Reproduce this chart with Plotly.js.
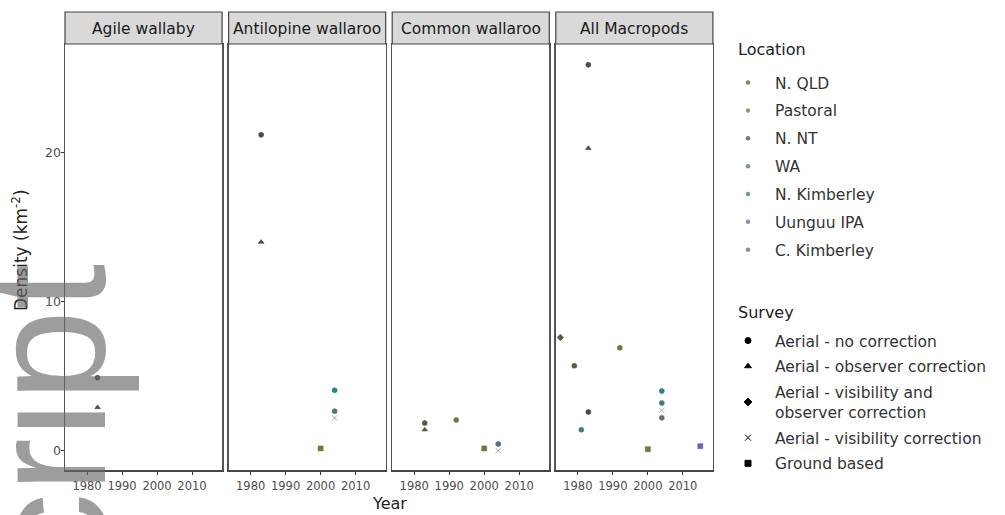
<!DOCTYPE html>
<html><head><meta charset="utf-8">
<script src="https://cdn.plot.ly/plotly-3.0.1.min.js"></script>
<style>html,body{margin:0;padding:0;background:#fff}#chart{width:1005px;height:515px}</style>
</head><body><div id="chart"></div>
<script>
// ---------- data ----------
const panelNames = ["Agile wallaby", "Antilopine wallaroo", "Common wallaroo", "All Macropods"];
const locations = ["N. QLD", "Pastoral", "N. NT", "WA", "N. Kimberley", "Uunguu IPA", "C. Kimberley"];
const locationColors = ["#5c5a3e", "#77733f", "#4a4a4a", "#4a7777", "#2e8088", "#6d62ad", "#6a6a6a"];
const surveys = ["Aerial - no correction", "Aerial - observer correction", "Aerial - visibility and<br>observer correction", "Aerial - visibility correction", "Ground based"];
const surveySymbols = ["circle", "triangle-up", "diamond", "x-thin-open", "square"];
const yearTicks = [1980, 1990, 2000, 2010];
const yearTickLabels = ["1980", "1990", "2000", "2010"];
const densityTicks = [0, 10, 20];
const densityTickLabels = ["0", "10", "20"];

const agileYear = [1983, 1983];
const agileDensity = [4.9, 2.9];
const agileLocation = ["N. NT", "N. NT"];
const agileSurvey = ["Aerial - no correction", "Aerial - observer correction"];

const antilopineYear = [1983, 1983, 2004, 2004, 2004, 2000];
const antilopineDensity = [21.2, 14.0, 4.05, 2.65, 2.2, 0.15];
const antilopineLocation = ["N. NT", "N. NT", "N. Kimberley", "WA", "WA", "Pastoral"];
const antilopineSurvey = ["Aerial - no correction", "Aerial - observer correction", "Aerial - no correction", "Aerial - no correction", "Aerial - visibility correction", "Ground based"];

const commonYear = [1983, 1983, 1992, 2000, 2004, 2004];
const commonDensity = [1.85, 1.4, 2.05, 0.15, 0.45, 0.0];
const commonLocation = ["N. QLD", "N. QLD", "Pastoral", "Pastoral", "WA", "WA"];
const commonSurvey = ["Aerial - no correction", "Aerial - observer correction", "Aerial - no correction", "Ground based", "Aerial - no correction", "Aerial - visibility correction"];

const allYear = [1983, 1983, 1975, 1992, 1979, 2004, 2004, 2004, 2004, 1983, 1981, 2000, 2015];
const allDensity = [25.9, 20.3, 7.6, 6.9, 5.7, 4.0, 3.2, 2.7, 2.2, 2.6, 1.4, 0.1, 0.3];
const allLocation = ["N. NT", "N. NT", "N. QLD", "Pastoral", "N. QLD", "N. Kimberley", "WA", "WA", "C. Kimberley", "N. NT", "WA", "Pastoral", "Uunguu IPA"];
const allSurvey = ["Aerial - no correction", "Aerial - observer correction", "Aerial - visibility and<br>observer correction", "Aerial - no correction", "Aerial - no correction", "Aerial - no correction", "Aerial - no correction", "Aerial - visibility correction", "Aerial - no correction", "Aerial - no correction", "Aerial - no correction", "Ground based", "Ground based"];

// ---------- layout helpers ----------
const W = 1005, H = 515;
const px = v => v / W;
const py = v => 1 - v / H;
const panelLeft = [65, 228.6, 392.2, 555.8];
const panelWidth = 157.1;
const panelTop = 44, panelBottom = 470, stripTop = 12;
const FONT = "DejaVu Sans";

const panelData = [
  [agileYear, agileDensity, agileLocation, agileSurvey],
  [antilopineYear, antilopineDensity, antilopineLocation, antilopineSurvey],
  [commonYear, commonDensity, commonLocation, commonSurvey],
  [allYear, allDensity, allLocation, allSurvey]
];

const traces = [];
panelData.forEach((d, i) => {
  const sfx = i === 0 ? "" : String(i + 1);
  traces.push({
    type: "scatter", mode: "markers",
    x: d[0], y: d[1],
    xaxis: "x" + sfx, yaxis: "y" + sfx,
    showlegend: false, hoverinfo: "x+y",
    marker: {
      size: 5,
      color: d[2].map(l => locationColors[locations.indexOf(l)]),
      symbol: d[3].map(s => surveySymbols[surveys.indexOf(s)]),
      line: {width: 0.6, color: d[2].map(l => locationColors[locations.indexOf(l)])}
    }
  });
});
// legend-only entries
locations.forEach((l, i) => {
  traces.push({type: "scatter", mode: "markers", x: [null], y: [null], name: l,
    legend: "legend", legendgroup: "loc" + i, showlegend: true,
    marker: {size: 4.5, color: locationColors[i], symbol: "circle", opacity: 0.75}});
});
surveys.forEach((s, i) => {
  traces.push({type: "scatter", mode: "markers", x: [null], y: [null], name: s,
    legend: "legend2", legendgroup: "srv" + i, showlegend: true,
    marker: {size: 6, color: "#000", symbol: surveySymbols[i], line: {width: 1, color: "#000"}}});
});

const layout = {
  width: W, height: H,
  margin: {l: 0, r: 0, t: 0, b: 0, autoexpand: false},
  paper_bgcolor: "#fff", plot_bgcolor: "#fff",
  font: {family: FONT, color: "#333"},
  showlegend: true,
  legend: {
    xref: "container", yref: "container", x: px(721), y: py(66), xanchor: "left", yanchor: "top",
    traceorder: "grouped", tracegroupgap: 4.7, itemwidth: 44,
    font: {family: FONT, size: 15.5, color: "#333"}, bgcolor: "rgba(0,0,0,0)"
  },
  legend2: {
    xref: "container", yref: "container", x: px(721), y: py(324), xanchor: "left", yanchor: "top",
    traceorder: "grouped", tracegroupgap: 2.5, itemwidth: 44,
    font: {family: FONT, size: 15.5, color: "#333"}, bgcolor: "rgba(0,0,0,0)"
  },
  shapes: [],
  annotations: []
};

panelNames.forEach((name, i) => {
  const sfx = i === 0 ? "" : String(i + 1);
  const l = panelLeft[i], r = l + panelWidth;
  layout["xaxis" + sfx] = {
    domain: [px(l), px(r)], anchor: "y" + sfx,
    range: [1973.7, 2018.6], showgrid: false, zeroline: false,
    showline: true, linecolor: "#444", linewidth: 1.5, mirror: true,
    ticks: "outside", ticklen: 3, tickcolor: "#333", tickwidth: 1,
    tickmode: "array", tickvals: yearTicks, ticktext: yearTickLabels, tickangle: 0,
    ticklabelstandoff: 2,
    tickfont: {family: FONT, size: 11.5, color: "#4d4d4d"}, fixedrange: true
  };
  layout["yaxis" + sfx] = {
    domain: [py(panelBottom), py(panelTop)], anchor: "x" + sfx,
    range: [-1.3, 27.3], showgrid: false, zeroline: false,
    showline: true, linecolor: "#555", linewidth: 1.5, mirror: true,
    ticks: i === 0 ? "outside" : "", ticklen: 3, tickcolor: "#333",
    showticklabels: i === 0, ticklabelstandoff: -3,
    tickmode: "array", tickvals: densityTicks, ticktext: densityTickLabels,
    tickfont: {family: FONT, size: 12.5, color: "#4d4d4d"}, fixedrange: true
  };
  layout.shapes.push({type: "rect", xref: "paper", yref: "paper",
    x0: px(l), x1: px(r), y0: py(panelTop), y1: py(stripTop),
    fillcolor: "#d9d9d9", line: {color: "#444", width: 1.2}, layer: "above"});
  layout.annotations.push({xref: "paper", yref: "paper", x: px((l + r) / 2), y: py((stripTop + panelTop) / 2 + 1),
    text: name, showarrow: false, xanchor: "center", yanchor: "middle",
    font: {family: FONT, size: 15.5, color: "#1a1a1a"}});
});

// axis titles
layout.annotations.push({xref: "paper", yref: "paper", x: px(389), y: py(503), text: "Year",
  showarrow: false, xanchor: "center", yanchor: "middle", font: {family: FONT, size: 16, color: "#222"}});
layout.annotations.push({xref: "paper", yref: "paper", x: px(20), y: py(250), text: "Density (km<sup>-2</sup>)",
  textangle: -90, showarrow: false, xanchor: "center", yanchor: "middle", font: {family: FONT, size: 17, color: "#222"}});
// legend titles
layout.annotations.push({xref: "paper", yref: "paper", x: px(736), y: py(50), text: "Location",
  showarrow: false, xanchor: "left", yanchor: "middle", font: {family: FONT, size: 16, color: "#222"}});
layout.annotations.push({xref: "paper", yref: "paper", x: px(736), y: py(312), text: "Survey",
  showarrow: false, xanchor: "left", yanchor: "middle", font: {family: FONT, size: 16, color: "#222"}});
// manuscript watermark
layout.annotations.push({xref: "paper", yref: "paper", x: px(-46), y: py(262), text: "script",
  textangle: -90, showarrow: false, xanchor: "left", yanchor: "top",
  font: {family: "Liberation Sans", size: 165, color: "rgba(105,105,105,0.65)"}});

Plotly.newPlot("chart", traces, layout, {displayModeBar: false, staticPlot: true});
</script></body></html>
